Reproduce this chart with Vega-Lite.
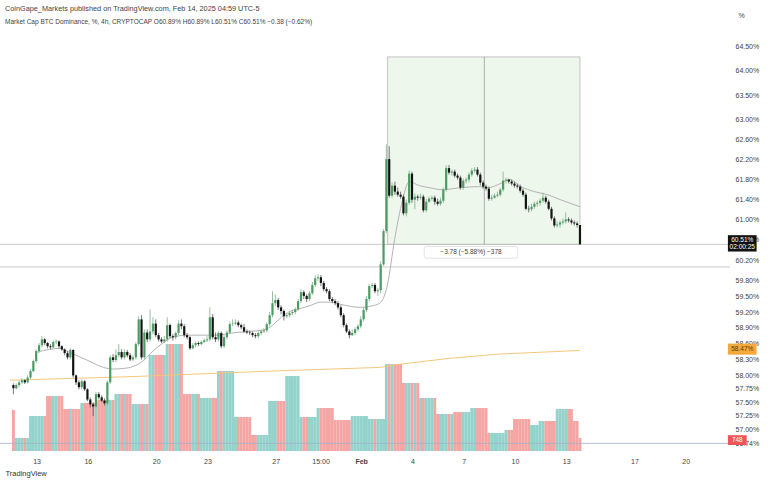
{
"$schema": "https://vega.github.io/schema/vega-lite/v6.json",
"width": 730, "height": 419,
"autosize": "none",
"padding": {"left": 0, "top": 32, "right": 38, "bottom": 31},
"background": "white",
"config": {"view": {"stroke": null}, "font": "Liberation Sans"},
"title": {"text": "CoinGape_Markets published on TradingView.com, Feb 14, 2025 04:59 UTC-5", "subtitle": "Market Cap BTC Dominance, %, 4h, CRYPTOCAP O60.89% H60.89% L60.51% C60.51% −0.38 (−0.62%)", "anchor": "start", "frame": "group", "offset": 7, "dy": 21, "fontSize": 7.3, "subtitleFontSize": 6.5, "font": "Liberation Sans", "subtitleFont": "Liberation Sans", "fontWeight": "normal", "color": "#444", "subtitleColor": "#444", "subtitlePadding": 6, "dx": 5},
"datasets": {
"candles": [
{"t":11.643,"o":57.82,"h":57.85,"l":57.65,"c":57.76,"v":2360},
{"t":11.81,"o":57.76,"h":57.85,"l":57.74,"c":57.82,"v":750},
{"t":11.976,"o":57.82,"h":57.91,"l":57.78,"c":57.87,"v":750},
{"t":12.143,"o":57.87,"h":57.95,"l":57.84,"c":57.91,"v":750},
{"t":12.31,"o":57.91,"h":57.93,"l":57.84,"c":57.87,"v":750},
{"t":12.476,"o":57.87,"h":58.0,"l":57.85,"c":57.96,"v":750},
{"t":12.643,"o":57.96,"h":58.12,"l":57.93,"c":58.08,"v":2010},
{"t":12.81,"o":58.08,"h":58.3,"l":58.06,"c":58.27,"v":2010},
{"t":12.976,"o":58.27,"h":58.49,"l":58.23,"c":58.46,"v":2010},
{"t":13.143,"o":58.46,"h":58.61,"l":58.42,"c":58.57,"v":2010},
{"t":13.31,"o":58.57,"h":58.74,"l":58.53,"c":58.68,"v":2010},
{"t":13.476,"o":58.68,"h":58.7,"l":58.57,"c":58.61,"v":2010},
{"t":13.643,"o":58.61,"h":58.63,"l":58.51,"c":58.55,"v":3160},
{"t":13.81,"o":58.55,"h":58.59,"l":58.49,"c":58.53,"v":3160},
{"t":13.976,"o":58.53,"h":58.66,"l":58.51,"c":58.63,"v":3160},
{"t":14.143,"o":58.63,"h":58.68,"l":58.59,"c":58.64,"v":3160},
{"t":14.31,"o":58.64,"h":58.66,"l":58.51,"c":58.55,"v":3160},
{"t":14.476,"o":58.55,"h":58.57,"l":58.46,"c":58.49,"v":3160},
{"t":14.643,"o":58.49,"h":58.51,"l":58.38,"c":58.42,"v":2415},
{"t":14.81,"o":58.42,"h":58.46,"l":58.3,"c":58.34,"v":2415},
{"t":14.976,"o":58.34,"h":58.51,"l":58.3,"c":58.48,"v":2415},
{"t":15.143,"o":58.48,"h":58.49,"l":57.96,"c":58.0,"v":2415},
{"t":15.31,"o":58.0,"h":58.02,"l":57.82,"c":57.87,"v":2415},
{"t":15.476,"o":57.87,"h":57.91,"l":57.74,"c":57.78,"v":2415},
{"t":15.643,"o":57.78,"h":57.93,"l":57.74,"c":57.89,"v":2760},
{"t":15.81,"o":57.89,"h":57.91,"l":57.71,"c":57.74,"v":2760},
{"t":15.976,"o":57.74,"h":57.76,"l":57.52,"c":57.55,"v":2760},
{"t":16.143,"o":57.55,"h":57.59,"l":57.4,"c":57.46,"v":2760},
{"t":16.31,"o":57.46,"h":57.5,"l":57.24,"c":57.42,"v":2760},
{"t":16.476,"o":57.42,"h":57.69,"l":57.38,"c":57.65,"v":2760},
{"t":16.643,"o":57.65,"h":57.69,"l":57.55,"c":57.59,"v":2930},
{"t":16.81,"o":57.59,"h":57.63,"l":57.5,"c":57.53,"v":2930},
{"t":16.976,"o":57.53,"h":57.57,"l":57.44,"c":57.48,"v":2930},
{"t":17.143,"o":57.48,"h":57.91,"l":57.44,"c":57.87,"v":2930},
{"t":17.31,"o":57.87,"h":58.38,"l":57.84,"c":58.34,"v":2930},
{"t":17.476,"o":58.34,"h":58.4,"l":58.25,"c":58.29,"v":2930},
{"t":17.643,"o":58.29,"h":58.49,"l":58.25,"c":58.38,"v":3280},
{"t":17.81,"o":58.38,"h":58.59,"l":58.34,"c":58.44,"v":3280},
{"t":17.976,"o":58.44,"h":58.49,"l":58.3,"c":58.34,"v":3280},
{"t":18.143,"o":58.34,"h":58.49,"l":58.3,"c":58.44,"v":3280},
{"t":18.31,"o":58.44,"h":58.48,"l":58.34,"c":58.38,"v":3280},
{"t":18.476,"o":58.38,"h":58.42,"l":58.27,"c":58.3,"v":3280},
{"t":18.643,"o":58.3,"h":58.38,"l":58.27,"c":58.34,"v":2700},
{"t":18.81,"o":58.34,"h":58.63,"l":58.3,"c":58.59,"v":2700},
{"t":18.976,"o":58.59,"h":59.12,"l":58.55,"c":59.06,"v":2700},
{"t":19.143,"o":59.06,"h":59.14,"l":58.3,"c":58.34,"v":2700},
{"t":19.31,"o":58.34,"h":58.87,"l":58.3,"c":58.81,"v":2700},
{"t":19.476,"o":58.81,"h":58.87,"l":58.63,"c":58.68,"v":2700},
{"t":19.643,"o":58.68,"h":59.25,"l":58.64,"c":58.83,"v":5520},
{"t":19.81,"o":58.83,"h":59.1,"l":58.78,"c":58.98,"v":5520},
{"t":19.976,"o":58.98,"h":59.06,"l":58.72,"c":58.76,"v":5520},
{"t":20.143,"o":58.76,"h":58.8,"l":58.64,"c":58.68,"v":5520},
{"t":20.31,"o":58.68,"h":58.72,"l":58.61,"c":58.64,"v":5520},
{"t":20.476,"o":58.64,"h":58.74,"l":58.61,"c":58.68,"v":5520},
{"t":20.643,"o":58.68,"h":59.1,"l":58.64,"c":58.95,"v":6150},
{"t":20.81,"o":58.95,"h":58.98,"l":58.7,"c":58.74,"v":6150},
{"t":20.976,"o":58.74,"h":58.78,"l":58.66,"c":58.72,"v":6150},
{"t":21.143,"o":58.72,"h":58.83,"l":58.68,"c":58.8,"v":6150},
{"t":21.31,"o":58.8,"h":59.04,"l":58.76,"c":58.98,"v":6150},
{"t":21.476,"o":58.98,"h":59.06,"l":58.87,"c":58.93,"v":6150},
{"t":21.643,"o":58.93,"h":58.97,"l":58.72,"c":58.76,"v":3280},
{"t":21.81,"o":58.76,"h":58.8,"l":58.68,"c":58.72,"v":3280},
{"t":21.976,"o":58.72,"h":58.74,"l":58.48,"c":58.51,"v":3280},
{"t":22.143,"o":58.51,"h":58.61,"l":58.49,"c":58.57,"v":3280},
{"t":22.31,"o":58.57,"h":58.64,"l":58.53,"c":58.61,"v":3280},
{"t":22.476,"o":58.61,"h":58.64,"l":58.55,"c":58.59,"v":3280},
{"t":22.643,"o":58.59,"h":58.66,"l":58.57,"c":58.63,"v":3050},
{"t":22.81,"o":58.63,"h":58.7,"l":58.61,"c":58.66,"v":3050},
{"t":22.976,"o":58.66,"h":58.74,"l":58.63,"c":58.68,"v":3050},
{"t":23.143,"o":58.68,"h":59.29,"l":58.64,"c":59.1,"v":3050},
{"t":23.31,"o":59.1,"h":59.16,"l":58.68,"c":58.72,"v":3050},
{"t":23.476,"o":58.72,"h":58.81,"l":58.63,"c":58.68,"v":3050},
{"t":23.643,"o":58.68,"h":58.83,"l":58.64,"c":58.8,"v":4600},
{"t":23.81,"o":58.8,"h":58.83,"l":58.51,"c":58.55,"v":4600},
{"t":23.976,"o":58.55,"h":58.76,"l":58.51,"c":58.72,"v":4600},
{"t":24.143,"o":58.72,"h":58.85,"l":58.68,"c":58.81,"v":4600},
{"t":24.31,"o":58.81,"h":59.02,"l":58.78,"c":58.97,"v":4600},
{"t":24.476,"o":58.97,"h":59.06,"l":58.93,"c":58.98,"v":4600},
{"t":24.643,"o":58.98,"h":59.06,"l":58.95,"c":59.0,"v":1955},
{"t":24.81,"o":59.0,"h":59.04,"l":58.91,"c":58.95,"v":1955},
{"t":24.976,"o":58.95,"h":58.98,"l":58.87,"c":58.91,"v":1955},
{"t":25.143,"o":58.91,"h":58.97,"l":58.8,"c":58.83,"v":1955},
{"t":25.31,"o":58.83,"h":58.87,"l":58.78,"c":58.81,"v":1955},
{"t":25.476,"o":58.81,"h":58.85,"l":58.76,"c":58.8,"v":1955},
{"t":25.643,"o":58.8,"h":58.83,"l":58.72,"c":58.76,"v":920},
{"t":25.81,"o":58.76,"h":58.8,"l":58.7,"c":58.74,"v":920},
{"t":25.976,"o":58.74,"h":58.83,"l":58.7,"c":58.8,"v":920},
{"t":26.143,"o":58.8,"h":58.87,"l":58.76,"c":58.83,"v":920},
{"t":26.31,"o":58.83,"h":58.89,"l":58.8,"c":58.85,"v":920},
{"t":26.476,"o":58.85,"h":59.0,"l":58.81,"c":58.97,"v":920},
{"t":26.643,"o":58.97,"h":59.2,"l":58.93,"c":59.14,"v":2875},
{"t":26.81,"o":59.14,"h":59.6,"l":59.1,"c":59.37,"v":2875},
{"t":26.976,"o":59.37,"h":59.54,"l":59.31,"c":59.43,"v":2875},
{"t":27.143,"o":59.43,"h":59.47,"l":59.24,"c":59.29,"v":2875},
{"t":27.31,"o":59.29,"h":59.33,"l":59.16,"c":59.22,"v":2875},
{"t":27.476,"o":59.22,"h":59.25,"l":59.04,"c":59.12,"v":2875},
{"t":27.643,"o":59.12,"h":59.18,"l":59.08,"c":59.14,"v":4310},
{"t":27.81,"o":59.14,"h":59.22,"l":59.1,"c":59.18,"v":4310},
{"t":27.976,"o":59.18,"h":59.24,"l":59.14,"c":59.2,"v":4310},
{"t":28.143,"o":59.2,"h":59.29,"l":59.16,"c":59.25,"v":4310},
{"t":28.31,"o":59.25,"h":59.45,"l":59.22,"c":59.41,"v":4310},
{"t":28.476,"o":59.41,"h":59.64,"l":59.37,"c":59.58,"v":1955},
{"t":28.643,"o":59.58,"h":59.62,"l":59.45,"c":59.51,"v":1955},
{"t":28.81,"o":59.51,"h":59.54,"l":59.39,"c":59.45,"v":1955},
{"t":28.976,"o":59.45,"h":59.6,"l":59.41,"c":59.56,"v":1955},
{"t":29.143,"o":59.56,"h":59.78,"l":59.53,"c":59.72,"v":1955},
{"t":29.31,"o":59.72,"h":59.91,"l":59.68,"c":59.85,"v":1955},
{"t":29.476,"o":59.85,"h":59.93,"l":59.8,"c":59.87,"v":2470},
{"t":29.643,"o":59.87,"h":59.91,"l":59.7,"c":59.76,"v":2470},
{"t":29.81,"o":59.76,"h":59.8,"l":59.6,"c":59.64,"v":2470},
{"t":29.976,"o":59.64,"h":59.68,"l":59.56,"c":59.6,"v":2470},
{"t":30.143,"o":59.6,"h":59.64,"l":59.41,"c":59.45,"v":2470},
{"t":30.31,"o":59.45,"h":59.49,"l":59.37,"c":59.41,"v":2470},
{"t":30.476,"o":59.41,"h":59.45,"l":59.33,"c":59.37,"v":1780},
{"t":30.643,"o":59.37,"h":59.41,"l":59.25,"c":59.29,"v":1780},
{"t":30.81,"o":59.29,"h":59.33,"l":59.1,"c":59.14,"v":1780},
{"t":30.976,"o":59.14,"h":59.18,"l":58.91,"c":58.95,"v":1780},
{"t":31.143,"o":58.95,"h":58.98,"l":58.8,"c":58.83,"v":1780},
{"t":31.31,"o":58.83,"h":58.87,"l":58.7,"c":58.76,"v":1780},
{"t":31.476,"o":58.76,"h":58.87,"l":58.74,"c":58.8,"v":2010},
{"t":31.643,"o":58.8,"h":58.91,"l":58.76,"c":58.87,"v":2010},
{"t":31.81,"o":58.87,"h":58.97,"l":58.83,"c":58.93,"v":2010},
{"t":31.976,"o":58.93,"h":59.12,"l":58.89,"c":59.06,"v":2010},
{"t":32.143,"o":59.06,"h":59.29,"l":59.02,"c":59.24,"v":2010},
{"t":32.31,"o":59.24,"h":59.51,"l":59.2,"c":59.45,"v":2010},
{"t":32.476,"o":59.45,"h":59.74,"l":59.41,"c":59.7,"v":1840},
{"t":32.643,"o":59.7,"h":59.76,"l":59.66,"c":59.72,"v":1840},
{"t":32.81,"o":59.72,"h":59.76,"l":59.56,"c":59.6,"v":1840},
{"t":32.976,"o":59.6,"h":59.66,"l":59.51,"c":59.62,"v":1840},
{"t":33.143,"o":59.62,"h":60.18,"l":59.56,"c":60.12,"v":1840},
{"t":33.31,"o":60.12,"h":60.81,"l":60.09,"c":60.77,"v":1840},
{"t":33.476,"o":60.77,"h":62.5,"l":60.73,"c":62.2,"v":5000},
{"t":33.643,"o":62.2,"h":62.46,"l":61.43,"c":61.47,"v":5000},
{"t":33.81,"o":61.47,"h":61.73,"l":61.43,"c":61.67,"v":5000},
{"t":33.976,"o":61.67,"h":61.75,"l":61.49,"c":61.55,"v":5000},
{"t":34.143,"o":61.55,"h":61.63,"l":61.45,"c":61.49,"v":5000},
{"t":34.31,"o":61.49,"h":61.55,"l":61.41,"c":61.45,"v":5000},
{"t":34.476,"o":61.45,"h":61.49,"l":61.08,"c":61.12,"v":3910},
{"t":34.643,"o":61.12,"h":61.39,"l":61.06,"c":61.33,"v":3910},
{"t":34.81,"o":61.33,"h":61.97,"l":61.29,"c":61.91,"v":3910},
{"t":34.976,"o":61.91,"h":61.95,"l":61.33,"c":61.39,"v":3910},
{"t":35.143,"o":61.39,"h":61.51,"l":61.2,"c":61.45,"v":3910},
{"t":35.31,"o":61.45,"h":61.49,"l":61.37,"c":61.43,"v":3910},
{"t":35.476,"o":61.43,"h":61.51,"l":61.39,"c":61.45,"v":3050},
{"t":35.643,"o":61.45,"h":61.49,"l":61.14,"c":61.18,"v":3050},
{"t":35.81,"o":61.18,"h":61.41,"l":61.14,"c":61.35,"v":3050},
{"t":35.976,"o":61.35,"h":61.45,"l":61.33,"c":61.41,"v":3050},
{"t":36.143,"o":61.41,"h":61.47,"l":61.37,"c":61.43,"v":3050},
{"t":36.31,"o":61.43,"h":61.47,"l":61.29,"c":61.35,"v":3050},
{"t":36.476,"o":61.35,"h":61.41,"l":61.27,"c":61.31,"v":2130},
{"t":36.643,"o":61.31,"h":61.43,"l":61.27,"c":61.37,"v":2130},
{"t":36.81,"o":61.37,"h":61.63,"l":61.33,"c":61.59,"v":2130},
{"t":36.976,"o":61.59,"h":62.08,"l":61.55,"c":62.02,"v":2130},
{"t":37.143,"o":62.02,"h":62.08,"l":61.89,"c":61.93,"v":2130},
{"t":37.31,"o":61.93,"h":61.99,"l":61.87,"c":61.95,"v":2130},
{"t":37.476,"o":61.95,"h":61.99,"l":61.83,"c":61.87,"v":2240},
{"t":37.643,"o":61.87,"h":61.91,"l":61.79,"c":61.83,"v":2240},
{"t":37.81,"o":61.83,"h":61.87,"l":61.59,"c":61.63,"v":2240},
{"t":37.976,"o":61.63,"h":61.81,"l":61.59,"c":61.77,"v":2240},
{"t":38.143,"o":61.77,"h":61.83,"l":61.71,"c":61.79,"v":2240},
{"t":38.31,"o":61.79,"h":61.93,"l":61.73,"c":61.89,"v":2240},
{"t":38.476,"o":61.89,"h":62.02,"l":61.85,"c":61.97,"v":2470},
{"t":38.643,"o":61.97,"h":62.04,"l":61.93,"c":61.99,"v":2470},
{"t":38.81,"o":61.99,"h":62.04,"l":61.85,"c":61.89,"v":2470},
{"t":38.976,"o":61.89,"h":61.93,"l":61.67,"c":61.73,"v":2470},
{"t":39.143,"o":61.73,"h":61.77,"l":61.61,"c":61.65,"v":2470},
{"t":39.31,"o":61.65,"h":61.69,"l":61.57,"c":61.61,"v":2470},
{"t":39.476,"o":61.61,"h":61.65,"l":61.37,"c":61.41,"v":1035},
{"t":39.643,"o":61.41,"h":61.49,"l":61.37,"c":61.43,"v":1035},
{"t":39.81,"o":61.43,"h":61.51,"l":61.41,"c":61.47,"v":1035},
{"t":39.976,"o":61.47,"h":61.55,"l":61.43,"c":61.49,"v":1035},
{"t":40.143,"o":61.49,"h":61.63,"l":61.45,"c":61.59,"v":1035},
{"t":40.31,"o":61.59,"h":61.95,"l":61.55,"c":61.77,"v":1035},
{"t":40.476,"o":61.77,"h":61.83,"l":61.71,"c":61.79,"v":1210},
{"t":40.643,"o":61.79,"h":61.81,"l":61.71,"c":61.75,"v":1210},
{"t":40.81,"o":61.75,"h":61.79,"l":61.67,"c":61.71,"v":1210},
{"t":40.976,"o":61.71,"h":61.75,"l":61.63,"c":61.67,"v":1840},
{"t":41.143,"o":61.67,"h":61.71,"l":61.61,"c":61.65,"v":1840},
{"t":41.31,"o":61.65,"h":61.69,"l":61.53,"c":61.57,"v":1840},
{"t":41.476,"o":61.57,"h":61.61,"l":61.45,"c":61.49,"v":1840},
{"t":41.643,"o":61.49,"h":61.53,"l":61.18,"c":61.21,"v":1840},
{"t":41.81,"o":61.21,"h":61.27,"l":61.14,"c":61.2,"v":1840},
{"t":41.976,"o":61.2,"h":61.31,"l":61.16,"c":61.25,"v":1500},
{"t":42.143,"o":61.25,"h":61.35,"l":61.21,"c":61.31,"v":1500},
{"t":42.31,"o":61.31,"h":61.37,"l":61.25,"c":61.33,"v":1500},
{"t":42.476,"o":61.33,"h":61.41,"l":61.27,"c":61.37,"v":1725},
{"t":42.643,"o":61.37,"h":61.53,"l":61.33,"c":61.43,"v":1725},
{"t":42.81,"o":61.43,"h":61.47,"l":61.31,"c":61.35,"v":1725},
{"t":42.976,"o":61.35,"h":61.39,"l":61.18,"c":61.21,"v":1725},
{"t":43.143,"o":61.21,"h":61.25,"l":60.98,"c":61.02,"v":1725},
{"t":43.31,"o":61.02,"h":61.06,"l":60.84,"c":60.88,"v":1725},
{"t":43.476,"o":60.88,"h":60.96,"l":60.84,"c":60.9,"v":2415},
{"t":43.643,"o":60.9,"h":60.98,"l":60.84,"c":60.94,"v":2415},
{"t":43.81,"o":60.94,"h":61.02,"l":60.9,"c":60.96,"v":2415},
{"t":43.976,"o":60.96,"h":61.14,"l":60.92,"c":61.0,"v":2415},
{"t":44.143,"o":61.0,"h":61.04,"l":60.94,"c":60.98,"v":2415},
{"t":44.31,"o":60.98,"h":61.02,"l":60.9,"c":60.94,"v":2415},
{"t":44.476,"o":60.94,"h":60.98,"l":60.88,"c":60.92,"v":1725},
{"t":44.643,"o":60.92,"h":60.96,"l":60.84,"c":60.89,"v":1725},
{"t":44.81,"o":60.89,"h":60.89,"l":60.51,"c":60.51,"v":748}
],
"ma": [
{"t":13.05,"p":58.44},{"t":13.75,"p":58.49},{"t":14.33,"p":58.51},{"t":15.02,"p":58.42},{"t":15.94,"p":58.29},{"t":16.92,"p":58.15},{"t":17.5,"p":58.12},{"t":18.08,"p":58.13},{"t":18.66,"p":58.17},{"t":19.23,"p":58.27},{"t":19.81,"p":58.46},{"t":20.39,"p":58.61},{"t":20.97,"p":58.72},{"t":21.83,"p":58.76},{"t":22.7,"p":58.76},{"t":23.56,"p":58.76},{"t":24.43,"p":58.8},{"t":25.3,"p":58.83},{"t":26.16,"p":58.85},{"t":26.74,"p":58.93},{"t":27.32,"p":59.1},{"t":27.89,"p":59.22},{"t":28.47,"p":59.27},{"t":29.05,"p":59.33},{"t":29.63,"p":59.39},{"t":30.2,"p":59.39},{"t":30.78,"p":59.35},{"t":31.36,"p":59.31},{"t":31.94,"p":59.29},{"t":32.51,"p":59.31},{"t":33.09,"p":59.37},{"t":33.55,"p":59.74},{"t":33.96,"p":60.61},{"t":34.36,"p":61.29},{"t":34.82,"p":61.75},{"t":35.4,"p":61.67},{"t":35.98,"p":61.63},{"t":36.73,"p":61.59},{"t":37.88,"p":61.63},{"t":38.86,"p":61.65},{"t":39.44,"p":61.63},{"t":40.02,"p":61.69},{"t":40.71,"p":61.79},{"t":41.35,"p":61.65},{"t":42.15,"p":61.55},{"t":42.9,"p":61.49},{"t":43.66,"p":61.39},{"t":44.81,"p":61.25}
],
"ema": [
{"t":11.44,"p":57.91},{"t":18.83,"p":57.98},{"t":26.57,"p":58.08},{"t":33.09,"p":58.15},{"t":34.24,"p":58.21},{"t":37.13,"p":58.32},{"t":40.02,"p":58.4},{"t":44.81,"p":58.47}
],
"box": [{"t1":33.55,"t2":44.81,"p1":60.51,"p2":64.29,"tm":39.21}],
"levels": [{"p":60.51},{"p":60.07}],
"tags": [
{"k":"last","t1":53.47,"t2":55.15,"p1":60.37,"p2":60.69},
{"k":"ma","t1":53.47,"t2":55.15,"p1":58.39,"p2":58.6},
{"k":"vol","t1":53.47,"t2":54.57,"p1":56.71,"p2":56.89}
],
"tagtext": [
{"k":"last","t":54.31,"p":60.6,"s":"60.51%"},
{"k":"last","t":54.31,"p":60.45,"s":"02:00:25"},
{"k":"ma","t":54.31,"p":58.49,"s":"58.47%"},
{"k":"vol","t":54.02,"p":56.8,"s":"748"}
],
"measure": [{"t1":35.69,"t2":41.17,"p1":60.24,"p2":60.47,"t":38.43,"p":60.355,"s":"−3.78 (−5.88%) −378"}]
},
"layer": [
{
"layer": [
{"data": {"name": "candles"}, "mark": {"type": "bar", "width": 2.9},
 "encoding": {
  "x": {"field": "t", "type": "quantitative", "scale": {"domain": [11.15, 53.3], "nice": false, "zero": false}},
  "y": {"field": "v", "type": "quantitative", "scale": {"domain": [0, 24090], "nice": false}, "axis": null},
  "color": {"condition": {"test": "datum.c >= datum.o", "value": "#93d3cc"}, "value": "#f5a5a3"}
 }}
]
},
{
"layer": [
{"data": {"name": "box"}, "mark": {"type": "rect", "fill": "#eef7ec", "stroke": "#b5b5b5", "strokeWidth": 0.8},
 "encoding": {"x": {"field": "t1", "type": "quantitative"}, "x2": {"field": "t2"}, "y": {"field": "p1", "type": "quantitative"}, "y2": {"field": "p2"}}},
{"data": {"name": "levels"}, "mark": {"type": "rule", "color": "#bdbdbd", "strokeWidth": 0.8},
 "encoding": {"y": {"field": "p", "type": "quantitative"}}},
{"data": {"name": "box"}, "mark": {"type": "rule", "color": "#9a9a9a", "strokeWidth": 0.8},
 "encoding": {"x": {"field": "tm", "type": "quantitative"}, "y": {"field": "p1", "type": "quantitative"}, "y2": {"field": "p2"}}},
{"data": {"values": [{"p": 56.74}]}, "mark": {"type": "rule", "color": "#9fb1c8", "strokeWidth": 0.8},
 "encoding": {"y": {"field": "p", "type": "quantitative"}}},
{"data": {"name": "ema"}, "mark": {"type": "line", "color": "#f6c77a", "strokeWidth": 1},
 "encoding": {"x": {"field": "t", "type": "quantitative"}, "y": {"field": "p", "type": "quantitative"}}},
{"data": {"name": "ma"}, "mark": {"type": "line", "color": "#b3b3b3", "strokeWidth": 1, "interpolate": "monotone"},
 "encoding": {"x": {"field": "t", "type": "quantitative"}, "y": {"field": "p", "type": "quantitative"}}},
{"data": {"name": "candles"}, "mark": {"type": "rule", "strokeWidth": 0.8},
 "encoding": {"x": {"field": "t", "type": "quantitative"}, "y": {"field": "l", "type": "quantitative"}, "y2": {"field": "h"},
  "color": {"condition": {"test": "datum.c >= datum.o", "value": "#7fae8a"}, "value": "#555555"}}},
{"data": {"name": "candles"}, "mark": {"type": "bar", "width": 2.2, "strokeWidth": 0.4},
 "encoding": {
  "x": {"field": "t", "type": "quantitative", "scale": {"domain": [11.15, 53.3], "nice": false, "zero": false},
   "axis": {"values": [13, 16, 20, 23, 27, 29.625, 32, 35, 38, 41, 44, 48, 51], "labelExpr": "datum.value == 29.625 ? '15:00' : datum.value == 32 ? 'Feb' : datum.value > 32 ? format(datum.value - 31, 'd') : format(datum.value, 'd')", "grid": false, "ticks": false, "domain": false, "labelFontSize": 7, "labelColor": "#444", "labelPadding": 6, "labelFontWeight": {"condition": {"test": "datum.value == 32", "value": "bold"}, "value": "normal"}, "title": "TradingView", "titleAnchor": "start", "titleAlign": "left", "titleFontSize": 7.5, "titleFontWeight": "normal", "titleColor": "#333", "titleX": 5, "titleY": 18}},
  "y": {"field": "o", "type": "quantitative", "scale": {"type": "log", "domain": [56.6, 64.81], "nice": false, "zero": false},
   "axis": {"orient": "right", "values": [64.5, 64, 63.5, 63, 62.6, 62.2, 61.8, 61.4, 61, 60.6, 60.2, 59.8, 59.5, 59.2, 58.9, 58.6, 58.3, 58, 57.75, 57.5, 57.25, 57, 56.74], "labelExpr": "format(datum.value, '.2f') + '%'", "grid": false, "ticks": false, "domain": false, "labelFontSize": 7, "labelColor": "#444", "labelPadding": 5, "title": "%", "titleAngle": 0, "titleAlign": "left", "titleFontSize": 7, "titleFontWeight": "normal", "titleColor": "#444", "titleX": 8, "titleY": -14}},
  "y2": {"field": "c"},
  "color": {"condition": {"test": "datum.c >= datum.o", "value": "#4e9a63"}, "value": "#141414"}
 }},
{"data": {"name": "measure"}, "mark": {"type": "rect", "fill": "white", "stroke": "#d0d0d0", "strokeWidth": 0.6, "cornerRadius": 2},
 "encoding": {"x": {"field": "t1", "type": "quantitative"}, "x2": {"field": "t2"}, "y": {"field": "p1", "type": "quantitative"}, "y2": {"field": "p2"}}},
{"data": {"name": "measure"}, "mark": {"type": "text", "fontSize": 6.5, "color": "#444"},
 "encoding": {"x": {"field": "t", "type": "quantitative"}, "y": {"field": "p", "type": "quantitative"}, "text": {"field": "s"}}},
{"data": {"name": "tags"}, "mark": {"type": "rect"},
 "encoding": {"x": {"field": "t1", "type": "quantitative"}, "x2": {"field": "t2"}, "y": {"field": "p1", "type": "quantitative"}, "y2": {"field": "p2"},
  "color": {"field": "k", "type": "nominal", "scale": {"domain": ["last", "ma", "vol"], "range": ["#111111", "#f6a93b", "#f0545a"]}, "legend": null}}},
{"data": {"name": "tagtext"}, "mark": {"type": "text", "fontSize": 6.5},
 "encoding": {"x": {"field": "t", "type": "quantitative"}, "y": {"field": "p", "type": "quantitative"}, "text": {"field": "s"},
  "fill": {"field": "k", "type": "nominal", "scale": {"domain": ["last", "ma", "vol"], "range": ["#ffffff", "#5a3a00", "#ffffff"]}, "legend": null}}}
]
}
],
"resolve": {"scale": {"y": "independent"}}
}
